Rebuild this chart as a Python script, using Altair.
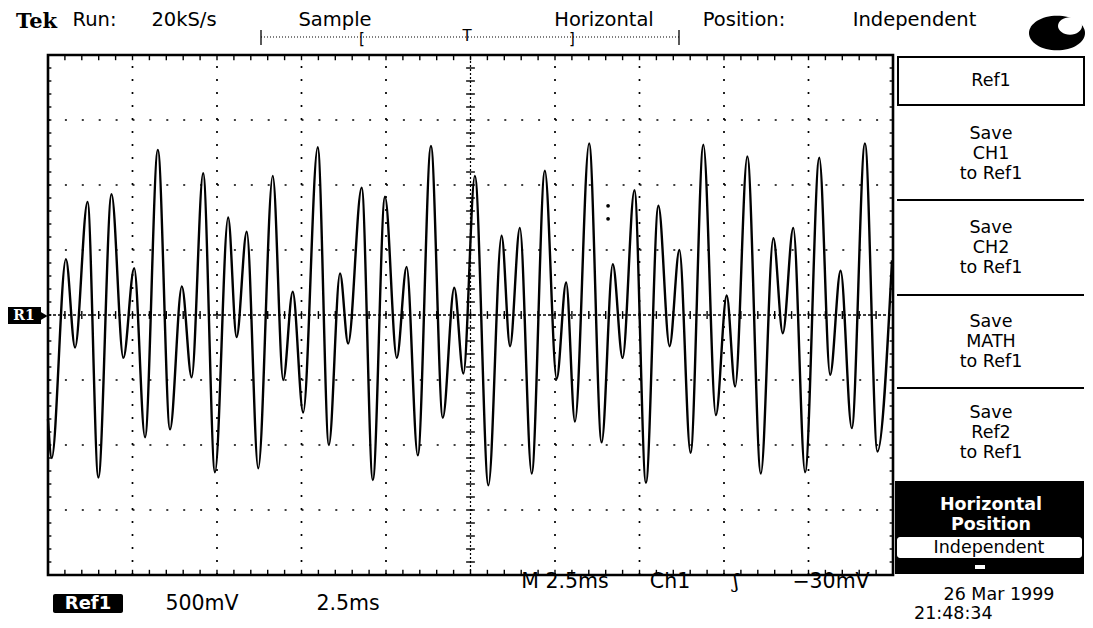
import altair as alt
import pandas as pd
import numpy as np

# ---- Ref1 waveform (2.5 ms/div, 500 mV/div) ----
time_ms = [0.00, 0.11, 0.53, 0.80, 1.17, 1.49, 1.88, 2.23, 2.55, 2.87,
           3.25, 3.61, 3.96, 4.25, 4.59, 4.94, 5.33, 5.58, 5.88, 6.22,
           6.65, 6.96, 7.24, 7.55, 7.98, 8.31, 8.64, 8.88, 9.28, 9.61,
           9.97, 10.32, 10.61, 10.94, 11.33, 11.68, 12.02, 12.29, 12.63, 13.03,
           13.42, 13.67, 13.96, 14.31, 14.70, 15.05, 15.33, 15.59, 16.01, 16.38,
           16.71, 17.00, 17.35, 17.69, 18.06, 18.39, 18.68, 19.01, 19.39, 19.76,
           20.08, 20.33, 20.69, 21.09, 21.46, 21.74, 22.05, 22.40, 22.82, 23.14,
           23.45, 23.78, 24.17, 24.54, 24.97]
volts = [-0.80, -1.10, 0.43, -0.25, 0.87, -1.25, 0.93, -0.33, 0.36, -0.94,
         1.27, -0.88, 0.22, -0.48, 1.09, -1.21, 0.75, -0.17, 0.64, -1.18,
         1.07, -0.50, 0.18, -0.75, 1.29, -1.00, 0.32, -0.22, 0.98, -1.27,
         0.91, -0.33, 0.37, -1.08, 1.30, -0.79, 0.21, -0.45, 1.07, -1.31,
         0.61, -0.24, 0.67, -1.22, 1.11, -0.49, 0.25, -0.82, 1.32, -0.98,
         0.39, -0.33, 0.96, -1.29, 0.84, -0.24, 0.50, -1.06, 1.31, -0.77,
         0.15, -0.55, 1.22, -1.22, 0.59, -0.14, 0.67, -1.21, 1.21, -0.46,
         0.34, -0.87, 1.32, -1.05, 0.42]

# two stray dots on the screen
speck_t = [16.57, 16.57]
speck_v = [0.84, 0.74]

# graticule
major_t = [2.5, 5.0, 7.5, 10.0, 15.0, 17.5, 20.0, 22.5]
major_v = [-1.5, -1.0, -0.5, 0.5, 1.0, 1.5]
center_t = 12.5
center_v = 0.0

# screen texts
top_words = ["Run:", "20kS/s", "Sample", "Horizontal", "Position:", "Independent"]
menu_groups = [["Save", "CH1", "to Ref1"], ["Save", "CH2", "to Ref1"],
               ["Save", "MATH", "to Ref1"], ["Save", "Ref2", "to Ref1"]]
bottom_texts = ["500mV", "2.5ms"]
trigger_texts = ["M 2.5ms", "Ch1", "ʃ", "−30mV"]
date_text = ["26 Mar 1999", "21:48:34"]

W, H = 845, 520
xs = alt.Scale(domain=[0, 25], nice=False, zero=False)
ys = alt.Scale(domain=[-2, 2], nice=False, zero=False)
FONT = "DejaVu Sans"

wave = pd.DataFrame({"t": time_ms, "v": volts})
specks = pd.DataFrame({"t": speck_t, "v": speck_v})
one = pd.DataFrame({"k": [0]})
base = alt.Chart(one)


def X(f):
    return alt.X(f, scale=xs, axis=None)


def Y(f):
    return alt.Y(f, scale=ys, axis=None)


layers = []

# dotted grid
vg = pd.DataFrame({"t": major_t, "v1": -2.0, "v2": 2.0})
layers.append(alt.Chart(vg).mark_rule(color="black", strokeWidth=1.7, strokeDash=[2, 11], strokeCap="butt")
              .encode(x=X("t:Q"), y=Y("v1:Q"), y2="v2:Q"))
hg = pd.DataFrame({"v": major_v, "t1": 0.0, "t2": 25.0})
layers.append(alt.Chart(hg).mark_rule(color="black", strokeWidth=1.7, strokeDash=[2, 14.9], strokeCap="butt")
              .encode(y=Y("v:Q"), x=X("t1:Q"), x2="t2:Q"))

# center cross
layers.append(alt.Chart(pd.DataFrame({"t": [center_t], "v1": [-2.0], "v2": [2.0]}))
              .mark_rule(color="black", strokeWidth=1.2, strokeDash=[2, 2])
              .encode(x=X("t:Q"), y=Y("v1:Q"), y2="v2:Q"))
layers.append(alt.Chart(pd.DataFrame({"v": [center_v], "t1": [0.0], "t2": [25.0]}))
              .mark_rule(color="black", strokeWidth=1.3, strokeDash=[3, 2])
              .encode(y=Y("v:Q"), x=X("t1:Q"), x2="t2:Q"))

minor_v = np.round(np.arange(-2.0, 2.0001, 0.1), 2)
minor_t = np.round(np.arange(0.0, 25.0001, 0.5), 2)
ct = pd.DataFrame({"v": minor_v, "t1": center_t - 0.13, "t2": center_t + 0.13})
layers.append(alt.Chart(ct).mark_rule(color="black", strokeWidth=1.4)
              .encode(y=Y("v:Q"), x=X("t1:Q"), x2="t2:Q"))
ch = pd.DataFrame({"t": minor_t, "v1": center_v - 0.03, "v2": center_v + 0.03})
layers.append(alt.Chart(ch).mark_rule(color="black", strokeWidth=1.4)
              .encode(x=X("t:Q"), y=Y("v1:Q"), y2="v2:Q"))

# edge ticks
el = pd.DataFrame({"v": minor_v, "t1": 0.0, "t2": 0.1})
er = pd.DataFrame({"v": minor_v, "t1": 24.9, "t2": 25.0})
for d in (el, er):
    layers.append(alt.Chart(d).mark_rule(color="black", strokeWidth=1.4)
                  .encode(y=Y("v:Q"), x=X("t1:Q"), x2="t2:Q"))
eb = pd.DataFrame({"t": minor_t, "v1": -2.0, "v2": -1.96})
et = pd.DataFrame({"t": minor_t, "v1": 1.96, "v2": 2.0})
for d in (eb, et):
    layers.append(alt.Chart(d).mark_rule(color="black", strokeWidth=1.4)
                  .encode(x=X("t:Q"), y=Y("v1:Q"), y2="v2:Q"))

# waveform
layers.append(alt.Chart(wave).mark_line(color="black", strokeWidth=2.4, interpolate="monotone")
              .encode(x=X("t:Q"), y=Y("v:Q"), order=alt.Order("t:Q")))
layers.append(alt.Chart(specks).mark_circle(color="black", size=14, opacity=1)
              .encode(x=X("t:Q"), y=Y("v:Q")))


def label(txt, x, y, size=18, color="black", weight="normal", align="center",
          baseline="middle", font=FONT):
    return base.mark_text(text=txt, fontSize=size, color=color, fontWeight=weight,
                          align=align, baseline=baseline, font=font).encode(
        x=alt.value(x), y=alt.value(y))


def box(x1, x2, y1, y2, fill="black", stroke=None, sw=0, radius=0):
    kw = dict(fill=fill, cornerRadius=radius)
    if stroke:
        kw.update(stroke=stroke, strokeWidth=sw)
    return base.mark_rect(**kw).encode(x=alt.value(x1), x2=alt.value(x2),
                                       y=alt.value(y1), y2=alt.value(y2))


def hline(x1, x2, y, sw=2.0, dash=None):
    kw = dict(color="black", strokeWidth=sw)
    if dash:
        kw.update(strokeDash=dash)
    return base.mark_rule(**kw).encode(x=alt.value(x1), x2=alt.value(x2), y=alt.value(y))


def vline(x, y1, y2, sw=1.5):
    return base.mark_rule(color="black", strokeWidth=sw).encode(
        x=alt.value(x), y=alt.value(y1), y2=alt.value(y2))


# ---- top status line ----
layers.append(label("Tek", -32, -27, size=21, weight="bold", align="left",
                    baseline="alphabetic", font="DejaVu Serif"))
top_x = [46.5, 136, 287, 556, 696, 866.5]
for w, x in zip(top_words, top_x):
    layers.append(label(w, x, -29.5, size=19.5, baseline="alphabetic"))

# record-length bar
layers.append(hline(213, 631, -18, sw=1.2, dash=[1, 2]))
layers.append(vline(213, -25, -10, sw=1.3))
layers.append(vline(631, -25, -10, sw=1.3))
layers.append(label("[", 314, -16, size=15))
layers.append(label("T", 419, -19, size=15))
layers.append(label("]", 524, -16, size=15))

# knob blob
ell = "M-1,0 A1,0.62,0,1,0,1,0 A1,0.62,0,1,0,-1,0 Z"
layers.append(base.mark_point(shape=ell, filled=True, color="black", size=3136, opacity=1)
              .encode(x=alt.value(1009), y=alt.value(-22)))
layers.append(base.mark_point(shape="M-1,0 A1,0.72,0,1,0,1,0 A1,0.72,0,1,0,-1,0 Z",
                              filled=True, color="white", size=576, opacity=1)
              .encode(x=alt.value(1022), y=alt.value(-29)))

# ---- right-hand menu ----
MX = 943
MS = 17.5
layers.append(box(850, 1036, 2, 50, fill="white", stroke="black", sw=2))
layers.append(label("Ref1", MX, 26, size=MS))
sep_y = [145, 240, 333]
for y in sep_y:
    layers.append(hline(849, 1036, y, sw=2.2))
group_y = [79, 173, 267, 358]
for grp, y0 in zip(menu_groups, group_y):
    for i, w in enumerate(grp):
        layers.append(label(w, MX, y0 + 20 * i, size=MS))
layers.append(box(847, 1036, 426, 519))
layers.append(label("Horizontal", MX, 450, size=MS, color="white", weight="bold"))
layers.append(label("Position", MX, 470, size=MS, color="white", weight="bold"))
layers.append(box(849, 1034, 482, 503, fill="white", radius=3))
layers.append(label("Independent", MX - 2, 492.5, size=MS))
layers.append(box(927, 937, 510, 514, fill="white"))

# ---- R1 ground marker ----
layers.append(box(-40, -7, 252, 269))
layers.append(label("R1", -24, 261, size=14, color="white", weight="bold", font="DejaVu Serif"))
layers.append(base.mark_point(shape="triangle-right", filled=True, color="black", size=70, opacity=1)
              .encode(x=alt.value(-4), y=alt.value(261)))

# ---- bottom readouts ----
layers.append(box(5, 75, 539, 558, radius=2))
layers.append(label("Ref1", 40, 549, size=18, color="white", weight="bold"))
for w, x in zip(bottom_texts, [154, 300]):
    layers.append(label(w, x, 549, size=20.5))
for w, x in zip(trigger_texts, [517, 622, 688, 783]):
    layers.append(label(w, x, 527, size=20.5, font=FONT if w != "ʃ" else "DejaVu Serif"))
layers.append(label(date_text[0], 951, 540, size=17.5))
layers.append(label(date_text[1], 866, 559, size=17.5, align="left"))

chart = alt.layer(*layers).properties(
    width=W, height=H,
    padding={"left": 40, "top": 47, "right": 192, "bottom": 49},
    autosize=alt.AutoSizeParams(type="none"),
    background="white",
).configure_view(stroke="black", strokeWidth=2.6)

chart.save("out.html", embed_options={"renderer": "svg", "actions": False})
